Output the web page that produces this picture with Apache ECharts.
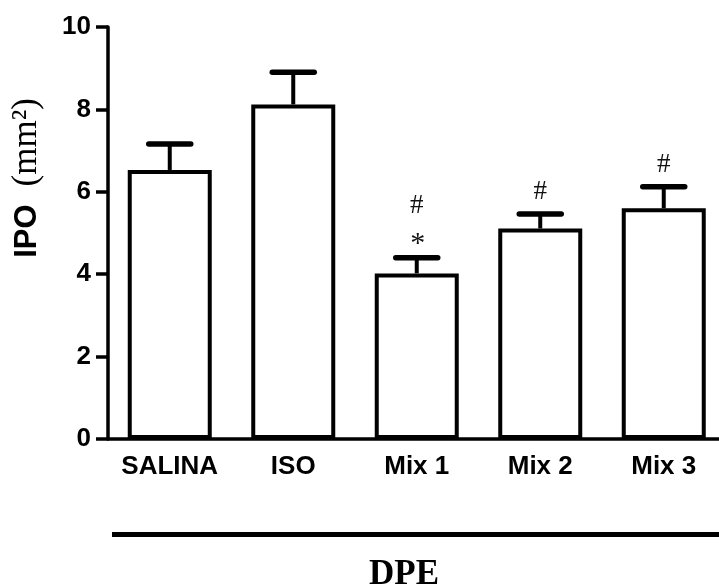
<!DOCTYPE html>
<html>
<head>
<meta charset="utf-8">
<script src="https://cdn.jsdelivr.net/npm/echarts@6/dist/echarts.min.js"></script>
<style>html,body{margin:0;padding:0;background:#fff;}#c{width:719px;height:588px;}</style>
</head>
<body>
<div id="c"></div>
<script>
const categories = ['SALINA', 'ISO', 'Mix 1', 'Mix 2', 'Mix 3'];
const means = [6.53, 8.12, 4.02, 5.11, 5.60];
const errors = [0.63, 0.78, 0.38, 0.35, 0.52];
const hashMarks = ['', '', '#', '#', '#'];
const starMarks = ['', '', '*', '', ''];
const yTicks = [0, 2, 4, 6, 8, 10];

const chart = echarts.init(document.getElementById('c'), null, {renderer: 'canvas'});
const sans = 'Liberation Sans, Arial, sans-serif';
const serif = 'Liberation Serif, Times New Roman, serif';

const errData = categories.map((c, i) => [i, means[i], means[i] + errors[i]]);

chart.setOption({
  animation: false,
  backgroundColor: '#fff',
  grid: {left: 108, top: 27, width: 617.5, height: 412, containLabel: false, outerBoundsMode: 'none'},
  xAxis: {
    type: 'category',
    data: categories,
    axisLine: {lineStyle: {color: '#000', width: 3.5}},
    axisTick: {alignWithLabel: true, interval: 0, length: 11, lineStyle: {color: '#000', width: 3}},
    axisLabel: {interval: 0, hideOverlap: false, color: '#000', fontFamily: sans, fontWeight: 'bold', fontSize: 26, margin: 15}
  },
  yAxis: {
    type: 'value',
    min: yTicks[0], max: yTicks[yTicks.length - 1], interval: 2,
    splitLine: {show: false},
    axisLine: {show: true, lineStyle: {color: '#000', width: 3.5}},
    axisTick: {show: true, length: 12, lineStyle: {color: '#000', width: 3.5}},
    axisLabel: {color: '#000', fontFamily: sans, fontWeight: 'bold', fontSize: 26, margin: 17}
  },
  series: [
    {
      type: 'bar',
      data: means,
      barWidth: 84,
      itemStyle: {color: '#fff', borderColor: '#000', borderWidth: 4},
      z: 2
    },
    {
      type: 'custom',
      data: errData,
      z: 3,
      renderItem: function (params, api) {
        const i = api.value(0);
        const base = api.coord([i, api.value(1)]);
        const top = api.coord([i, api.value(2)]);
        const children = [
          {type: 'line', shape: {x1: top[0], y1: base[1], x2: top[0], y2: top[1]},
           style: {stroke: '#000', lineWidth: 4}},
          {type: 'line', shape: {x1: top[0] - 21, y1: top[1], x2: top[0] + 21, y2: top[1]},
           style: {stroke: '#000', lineWidth: 5.5, lineCap: 'round'}}
        ];
        const hasStar = starMarks[i] !== '';
        if (hasStar) {
          children.push({type: 'text', x: top[0] + 1, y: top[1] - 14,
            style: {text: starMarks[i], font: '30px ' + serif, fill: '#111', align: 'center', verticalAlign: 'middle'}});
        }
        if (hashMarks[i] !== '') {
          children.push({type: 'text', x: top[0], y: top[1] - (hasStar ? 52 : 22),
            style: {text: hashMarks[i], font: '27px ' + serif, fill: '#111', align: 'center', verticalAlign: 'middle'}});
        }
        return {type: 'group', children: children};
      }
    }
  ],
  graphic: [
    {type: 'line', shape: {x1: 112, y1: 534.5, x2: 730, y2: 534.5}, style: {stroke: '#000', lineWidth: 5}},
    {type: 'text', x: 404, y: 575,
     style: {text: 'DPE', font: 'bold 35px ' + serif, fill: '#000', align: 'center', verticalAlign: 'middle'}},
    {type: 'text', x: 27, y: 178, rotation: Math.PI / 2,
     style: {text: '{a|IPO}{b|(mm²)}', align: 'center', verticalAlign: 'middle',
       rich: {a: {fontFamily: sans, fontWeight: 'bold', fontSize: 31, fill: '#000', color: '#000', padding: [0, 18, 0, 0]},
              b: {fontFamily: serif, fontSize: 35, fill: '#000', color: '#000'}}}}
  ]
});
</script>
</body>
</html>
